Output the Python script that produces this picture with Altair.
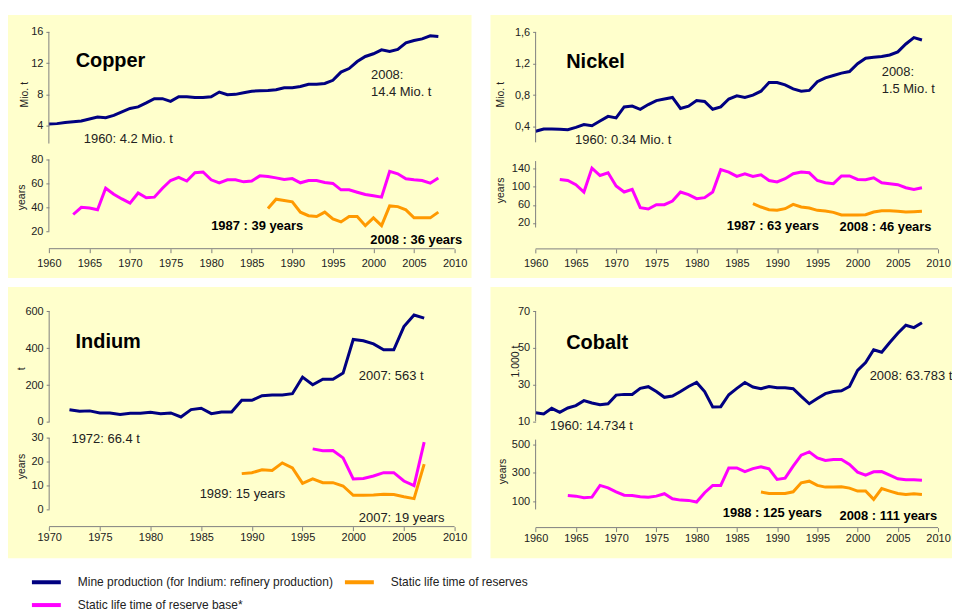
import altair as alt
import pandas as pd

# ---------------- data ----------------
S_PROD = "Mine production (for Indium: refinery production)"
S_RES = "Static life time of reserves"
S_BASE = "Static life time of reserve base*"

COPPER_PROD_YEARS = list(range(1960, 2009))
COPPER_PROD = [4.2, 4.25, 4.4, 4.5, 4.6, 4.85, 5.1, 5.0, 5.3, 5.75,
               6.2, 6.4, 6.9, 7.45, 7.45, 7.1, 7.7, 7.7, 7.6, 7.6,
               7.7, 8.3, 7.95, 8.0, 8.2, 8.4, 8.45, 8.5, 8.6, 8.85,
               8.85, 9.0, 9.3, 9.3, 9.4, 9.8, 10.85, 11.3, 12.2, 12.85,
               13.2, 13.7, 13.5, 13.75, 14.6, 14.9, 15.1, 15.5, 15.4]
COPPER_BASE_YEARS = list(range(1963, 2009))
COPPER_BASE = [34, 40, 39.5, 38, 56, 51, 47,
               43.5, 52, 48, 48.5, 56, 62.4, 65, 62, 69, 69.5,
               63, 60.5, 63, 63, 61.3, 62, 66.3, 65.8, 64.6, 63.3,
               64, 60.5, 62.4, 62.4, 60.7, 60, 54.6, 54.6, 52.6, 50.7,
               49.6, 48.5, 70, 68, 63.8, 63, 62.4, 60.2, 64.6]
COPPER_RES_YEARS = list(range(1987, 2009))
COPPER_RES = [39, 46.8, 45.7, 44.6, 35.9, 33, 32.3, 36, 30.3, 27.8, 32.3,
              32.3, 24.7, 31.2, 24.7, 41.2, 40.6, 37.9, 31.2, 31.2, 31.2, 36]

NICKEL_PROD_YEARS = list(range(1960, 2009))
NICKEL_PROD = [0.34, 0.37, 0.37, 0.365, 0.36, 0.39, 0.425, 0.41, 0.47, 0.53,
               0.51, 0.65, 0.66, 0.62, 0.68, 0.73, 0.75, 0.77, 0.63, 0.66,
               0.73, 0.72, 0.62, 0.65, 0.75, 0.79, 0.77, 0.8, 0.85, 0.96,
               0.96, 0.93, 0.88, 0.85, 0.86, 0.97, 1.02, 1.05, 1.08, 1.1,
               1.2, 1.27, 1.28, 1.29, 1.31, 1.35, 1.45, 1.53, 1.5]
NICKEL_BASE_YEARS = list(range(1963, 2009))
NICKEL_BASE = [116.4, 114, 104.7, 88.5, 141.5, 125, 131,
               101.7, 88.5, 94.3, 54, 51, 60.5, 60.5, 68.6, 88.5, 82.6,
               73.8, 76, 88.5, 138, 132.6, 123, 129, 123, 126.7, 114,
               111, 118, 129, 132.6, 131, 114, 109, 107, 124, 124,
               116.4, 115.7, 120, 109, 107, 104.7, 98, 94.3, 98]
NICKEL_RES_YEARS = list(range(1987, 2009))
NICKEL_RES = [63, 55.3, 49.4, 48, 51.6, 61.2, 55.3, 53, 48, 46.5, 43.5,
              37.6, 37.6, 37.6, 38.4, 44.3, 47.2, 47.2, 45.7, 44.3, 45, 46]

INDIUM_PROD_YEARS = list(range(1972, 2008))
INDIUM_PROD = [66.4, 58, 60, 49, 49, 41, 47, 47,
               52, 45, 49, 27, 67, 74, 45, 54, 54, 117,
               117, 142, 146, 146, 153, 243, 202, 232, 232, 265,
               447, 440, 423, 391, 391, 517, 580, 563]
INDIUM_BASE_YEARS = list(range(1996, 2008))
INDIUM_BASE = [25.4, 24.6, 24.7, 21.6, 12.8, 13, 14, 15.4, 15.4, 11.9, 10, 28.2]
INDIUM_RES_YEARS = list(range(1989, 2008))
INDIUM_RES = [15, 15.4, 16.6, 16.3, 19.5, 17.4, 10.9, 12.8, 11.2, 11.2,
              9.8, 5.9, 5.9, 6, 6.3, 6.2, 5.3, 4.5, 19]

COBALT_PROD_YEARS = list(range(1960, 2009))
COBALT_PROD = [14.734, 14, 17.1, 14.9, 17.3, 18.6, 21.3, 20, 19.1, 19.6,
               24.3, 24.7, 24.7, 28, 28.9, 26.3, 23.1, 23.8, 26.3, 29,
               31.2, 26.2, 17.8, 18, 24.5, 28, 31.2, 28.7, 27.8, 29,
               28.3, 28.3, 27.8, 23.6, 19.6, 22.4, 25.1, 26.3, 26.7, 29,
               37.8, 42.1, 49, 47.7, 53, 58, 62.4, 61.1, 63.783]
COBALT_BASE_YEARS = list(range(1964, 2009))
COBALT_BASE = [140, 135, 124, 128, 211, 194,
               166, 142, 140, 131, 128, 135, 152, 116, 107, 105,
               93, 159, 211, 211, 335, 335, 309, 330, 342, 328,
               253, 262, 347, 425, 448, 406, 387, 394, 394, 359,
               305, 284, 307, 309, 284, 258, 251, 251, 248]
COBALT_RES_YEARS = list(range(1988, 2009))
COBALT_RES = [164, 154, 154, 154, 166, 229, 241, 211, 199, 199, 201,
              192, 171, 171, 112, 189, 171, 154, 147, 152, 147]

# ---------------- styling ----------------
FONT = "Liberation Sans"
BG = "#FFFFCC"
NAVY = "#000080"
MAGENTA = "#FF00FF"
ORANGE = "#FF9900"
AXIS_GRAY = "#808080"
TEXT = "#222222"

color_scale = alt.Scale(domain=[S_PROD, S_BASE, S_RES], range=[NAVY, MAGENTA, ORANGE])
legend = alt.Legend(title=None, orient="none", legendX=22, legendY=563, columns=2,
                    symbolType="stroke", symbolSize=841, symbolStrokeWidth=4,
                    clipHeight=12, labelFont=FONT, labelFontSize=12, labelColor=TEXT,
                    labelOffset=15, labelLimit=400, rowPadding=11, columnPadding=9,
                    padding=0)

STYLES = {
    "title": dict(font=FONT, fontSize=20, fontWeight="bold", color="#000000", align="left", baseline="middle"),
    "bold": dict(font=FONT, fontSize=13, fontWeight="bold", color="#000000", align="left", baseline="middle"),
    "normal": dict(font=FONT, fontSize=13, color=TEXT, align="left", baseline="middle"),
    "axis": dict(font=FONT, fontSize=10.5, color=TEXT, align="center", baseline="middle", angle=270),
}

# layout of each panel: value -> pixel anchors (pixels inside the panel)
PANELS = [
    dict(name="Copper", width=465, height=264,
         xmap=(1960, 41, 2010, 448), xticks=list(range(1960, 2011, 5)), xline=234.5, xpad=5,
         prod=(COPPER_PROD_YEARS, COPPER_PROD), pmap=(16, 17, 4, 111), pext=(1.7, 16),
         pticks=[4, 8, 12, 16], pexpr=None,
         base=(COPPER_BASE_YEARS, COPPER_BASE), res=(COPPER_RES_YEARS, COPPER_RES),
         lmap=(80, 145, 20, 217), lext=(20, 80), lticks=[20, 40, 60, 80],
         notes=[("Copper", 1963.3, 12.23, "p", "title"),
                ("2008:", 1999.7, 10.51, "p", "normal"),
                ("14.4 Mio. t", 1999.7, 8.34, "p", "normal"),
                ("1960: 4.2 Mio. t", 1964.3, 2.33, "p", "normal"),
                ("Mio. t", 1957.05, 7.95, "p", "axis"),
                ("1987 : 39 years", 1980.0, 24.2, "l", "bold"),
                ("2008 : 36 years", 1999.6, 12.5, "l", "bold"),
                ("years", 1956.7, 48.3, "l", "axis")]),
    dict(name="Nickel", width=463, height=264,
         xmap=(1960, 45.3, 2010, 449), xticks=list(range(1960, 2011, 5)), xline=234.7, xpad=5,
         prod=(NICKEL_PROD_YEARS, NICKEL_PROD), pmap=(1.6, 17.3, 0.4, 112), pext=(0.2, 1.6),
         pticks=[0.4, 0.8, 1.2, 1.6], pexpr="replace(format(datum.value, '.1f'), '.', ',')",
         base=(NICKEL_BASE_YEARS, NICKEL_BASE), res=(NICKEL_RES_YEARS, NICKEL_RES),
         lmap=(140, 154.3, 20, 208.7), lext=(10, 157), lticks=[20, 60, 100, 140],
         notes=[("Nickel", 1963.8, 1.224, "p", "title"),
                ("2008:", 2003.0, 1.097, "p", "normal"),
                ("1.5 Mio. t", 2003.0, 0.881, "p", "normal"),
                ("1960: 0.34 Mio. t", 1964.9, 0.235, "p", "normal"),
                ("Mio. t", 1955.75, 0.805, "p", "axis"),
                ("1987 : 63 years", 1983.75, 12.7, "l", "bold"),
                ("2008 : 46 years", 1997.75, 10.5, "l", "bold"),
                ("years", 1955.75, 92.1, "l", "axis")]),
    dict(name="Indium", width=465, height=272,
         xmap=(1970, 41.3, 2010, 448), xticks=list(range(1970, 2011, 5)), xline=240.3, xpad=1,
         prod=(INDIUM_PROD_YEARS, INDIUM_PROD), pmap=(600, 24.3, 0, 135.3), pext=(0, 600),
         pticks=[0, 200, 400, 600], pexpr=None,
         base=(INDIUM_BASE_YEARS, INDIUM_BASE), res=(INDIUM_RES_YEARS, INDIUM_RES),
         lmap=(30, 151.3, 0, 223), lext=(0, 30), lticks=[0, 10, 20, 30],
         notes=[("Indium", 1972.6, 432.4, "p", "title"),
                ("2007:  563 t", 2000.55, 250, "p", "normal"),
                ("t", 1967.3, 288, "p", "axis"),
                ("1972:  66.4 t", 1972.2, 29.7, "l", "normal"),
                ("1989:  15 years", 1984.85, 6.28, "l", "normal"),
                ("2007:  19 years", 2000.55, -3.77, "l", "normal"),
                ("years", 1967.3, 18.0, "l", "axis")]),
    dict(name="Cobalt", width=463, height=272,
         xmap=(1960, 45.3, 2010, 449), xticks=list(range(1960, 2011, 5)), xline=241.3, xpad=1,
         prod=(COBALT_PROD_YEARS, COBALT_PROD), pmap=(70, 24.3, 10, 134.7), pext=(10, 70),
         pticks=[10, 30, 50, 70], pexpr=None,
         base=(COBALT_BASE_YEARS, COBALT_BASE), res=(COBALT_RES_YEARS, COBALT_RES),
         lmap=(500, 158, 100, 214.7), lext=(41, 535), lticks=[100, 300, 500],
         notes=[("Cobalt", 1963.8, 52.77, "p", "title"),
                ("2008: 63.783 t", 2001.5, 34.84, "p", "normal"),
                ("1960: 14.734 t", 1961.8, 7.66, "p", "normal"),
                ("1.000 t", 1957.6, 42.6, "p", "axis"),
                ("1988 : 125 years", 1983.25, 13.2, "l", "bold"),
                ("2008 : 111 years", 1997.75, -7.9, "l", "bold"),
                ("years", 1956.0, 309.5, "l", "axis")]),
]


def domain_from(m, size, flip):
    """Scale domain such that value v1 lands on pixel p1 and v2 on p2."""
    v1, p1, v2, p2 = m
    slope = (v2 - v1) / (p2 - p1)
    at0 = v1 - p1 * slope
    atsize = v1 + (size - p1) * slope
    return [atsize, at0] if flip else [at0, atsize]


def pixel_to_value(m, px):
    v1, p1, v2, p2 = m
    return v1 + (px - p1) * (v2 - v1) / (p2 - p1)


def y_axis(ticks, offset, expr=None):
    kw = dict(values=ticks, orient="left", offset=offset, title=None, grid=False, domain=False,
              ticks=True, labels=True, tickColor=AXIS_GRAY, tickSize=3, labelPadding=3,
              labelFont=FONT, labelFontSize=11, labelColor=TEXT, labelFlush=False,
              labelOverlap=False)
    if expr:
        kw["labelExpr"] = expr
    return alt.Axis(**kw)


def panel(p):
    W, H = p["width"], p["height"]
    x0, x1 = p["xmap"][0], p["xmap"][2]
    axis_px = p["xmap"][1]
    xdom = domain_from(p["xmap"], W, False)
    pdom = domain_from(p["pmap"], H, True)
    ldom = domain_from(p["lmap"], H, True)

    def xs():
        return alt.Scale(domain=xdom, nice=False, zero=False)

    def ps():
        return alt.Scale(domain=pdom, nice=False, zero=False)

    def ls():
        return alt.Scale(domain=ldom, nice=False, zero=False)

    def xa():
        return alt.Axis(values=p["xticks"], format="d", orient="bottom", offset=-(H - p["xline"]),
                        title=None, grid=False, domain=False, ticks=True, labels=True,
                        tickColor=AXIS_GRAY, tickSize=4,
                        labelPadding=p["xpad"], labelFont=FONT, labelFontSize=11, labelColor=TEXT,
                        labelFlush=False, labelOverlap=False)

    def X(field):
        return alt.X(field, scale=xs(), axis=xa())

    prod_df = pd.DataFrame({"year": p["prod"][0], "value": p["prod"][1], "series": S_PROD})
    life_df = pd.concat([
        pd.DataFrame({"year": p["base"][0], "value": p["base"][1], "series": S_BASE}),
        pd.DataFrame({"year": p["res"][0], "value": p["res"][1], "series": S_RES}),
    ])

    prod_line = alt.Chart(prod_df).mark_line(strokeWidth=3).encode(
        x=X("year:Q"),
        y=alt.Y("value:Q", scale=ps(), axis=y_axis(p["pticks"], -axis_px, p["pexpr"])),
        color=alt.Color("series:N", scale=color_scale, legend=legend),
    )
    life_line = alt.Chart(life_df).mark_line(strokeWidth=3).encode(
        x=X("year:Q"),
        y=alt.Y("value:Q", scale=ls(), axis=y_axis(p["lticks"], -axis_px)),
        color=alt.Color("series:N", scale=color_scale, legend=legend),
        detail="series:N",
    )

    # axis lines (only over the span each axis covers)
    prod_axis = alt.Chart(pd.DataFrame({"year": [x0], "lo": [p["pext"][0]], "hi": [p["pext"][1]]})
                          ).mark_rule(color=AXIS_GRAY, strokeWidth=1).encode(
        x=X("year:Q"),
        y=alt.Y("lo:Q", scale=ps(), axis=None), y2="hi:Q")
    life_axis = alt.Chart(pd.DataFrame({"year": [x0], "lo": [p["lext"][0]], "hi": [p["lext"][1]]})
                          ).mark_rule(color=AXIS_GRAY, strokeWidth=1).encode(
        x=X("year:Q"),
        y=alt.Y("lo:Q", scale=ls(), axis=None), y2="hi:Q")
    xaxis_line = alt.Chart(pd.DataFrame({"year": [x0], "b": [x1],
                                         "v": [pixel_to_value(p["lmap"], p["xline"])]})
                           ).mark_rule(color=AXIS_GRAY, strokeWidth=1).encode(
        x=X("year:Q"), x2="b:Q",
        y=alt.Y("v:Q", scale=ls(), axis=None))

    layers = [prod_line, life_line, prod_axis, life_axis, xaxis_line]
    for text, yr, val, which, style in p["notes"]:
        df = pd.DataFrame({"year": [yr], "value": [val], "label": [text]})
        kw = dict(STYLES[style])
        if text.startswith("2008: 63"):
            kw["clip"] = True
        t = alt.Chart(df).mark_text(**kw).encode(
            x=X("year:Q"),
            y=alt.Y("value:Q", scale=ps() if which == "p" else ls(), axis=None),
            text="label:N",
        )
        layers.append(t)

    return alt.layer(*layers).resolve_scale(y="independent").properties(width=W, height=H)


chart = alt.concat(*[panel(p) for p in PANELS], columns=2,
                   spacing={"row": 9, "column": 19}, bounds="flush").properties(
    padding={"left": 0, "top": 6, "right": 0, "bottom": 0}
).configure_view(fill=BG, stroke=None)

chart.save("out.html", embed_options={"renderer": "svg", "actions": False})
